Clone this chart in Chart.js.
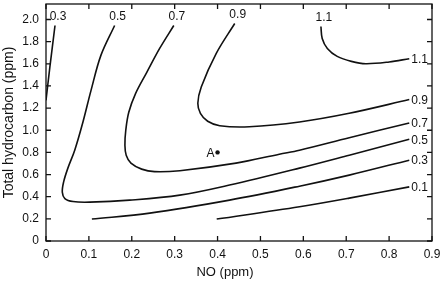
<!DOCTYPE html>
<html>
<head>
<meta charset="utf-8">
<script src="https://cdn.jsdelivr.net/npm/chart.js@4.4.1/dist/chart.umd.min.js"></script>
<style>
    html, body { margin: 0; padding: 0; background: #fff; }
</style>
</head>
<body>
<canvas id="isopleths" width="440" height="282"></canvas>
<script>
// axis ticks
const noTicks = [0, 0.1, 0.2, 0.3, 0.4, 0.5, 0.6, 0.7, 0.8, 0.9];
const hcTicks = [0, 0.2, 0.4, 0.6, 0.8, 1.0, 1.2, 1.4, 1.6, 1.8, 2.0];

// ozone isopleths (ppm), read off the figure as NO / hydrocarbon pairs
const iso01 = [
    {x: 0.398, y: 0.198}, {x: 0.591, y: 0.309}, {x: 0.707, y: 0.387}, {x: 0.847, y: 0.489}
];
const iso03Low = [
    {x: 0.107, y: 0.198}, {x: 0.242, y: 0.252}, {x: 0.428, y: 0.369},
    {x: 0.591, y: 0.495}, {x: 0.707, y: 0.595}, {x: 0.847, y: 0.730}
];
const iso03High = [
    {x: 0.021, y: 1.946}, {x: 0.009, y: 1.57}, {x: 0.0, y: 1.27}
];
const iso05 = [
    {x: 0.160, y: 1.946}, {x: 0.128, y: 1.676}, {x: 0.105, y: 1.360}, {x: 0.086, y: 1.072},
    {x: 0.067, y: 0.820}, {x: 0.051, y: 0.658}, {x: 0.041, y: 0.532}, {x: 0.038, y: 0.441},
    {x: 0.044, y: 0.383}, {x: 0.063, y: 0.356}, {x: 0.102, y: 0.351}, {x: 0.195, y: 0.369},
    {x: 0.312, y: 0.414}, {x: 0.428, y: 0.505}, {x: 0.591, y: 0.658}, {x: 0.707, y: 0.775},
    {x: 0.847, y: 0.919}
];
const iso07 = [
    {x: 0.298, y: 1.946}, {x: 0.265, y: 1.739}, {x: 0.235, y: 1.523}, {x: 0.209, y: 1.333},
    {x: 0.193, y: 1.162}, {x: 0.186, y: 1.000}, {x: 0.184, y: 0.865}, {x: 0.187, y: 0.775},
    {x: 0.198, y: 0.703}, {x: 0.223, y: 0.649}, {x: 0.253, y: 0.626}, {x: 0.312, y: 0.635},
    {x: 0.443, y: 0.703}, {x: 0.544, y: 0.784}, {x: 0.591, y: 0.820}, {x: 0.707, y: 0.933},
    {x: 0.847, y: 1.066}
];
const iso09 = [
    {x: 0.440, y: 1.964}, {x: 0.397, y: 1.694}, {x: 0.362, y: 1.390}, {x: 0.354, y: 1.243},
    {x: 0.360, y: 1.153}, {x: 0.377, y: 1.081}, {x: 0.405, y: 1.041}, {x: 0.474, y: 1.032},
    {x: 0.591, y: 1.075}, {x: 0.707, y: 1.153}, {x: 0.847, y: 1.277}
];
const iso11 = [
    {x: 0.641, y: 1.937}, {x: 0.644, y: 1.829}, {x: 0.656, y: 1.739}, {x: 0.679, y: 1.667},
    {x: 0.712, y: 1.622}, {x: 0.746, y: 1.601}, {x: 0.800, y: 1.617}, {x: 0.847, y: 1.646}
];
const pointA = [{x: 0.4, y: 0.8}];

// which end of each curve carries its value label
const curves = [
    {data: iso01, text: '0.1', top: false, right: true},
    {data: iso03Low, text: '0.3', top: false, right: true},
    {data: iso03High, text: '0.3', top: true, right: false},
    {data: iso05, text: '0.5', top: true, right: true},
    {data: iso07, text: '0.7', top: true, right: true},
    {data: iso09, text: '0.9', top: true, right: true},
    {data: iso11, text: '1.1', top: true, right: true}
];

const FONT = "'Liberation Sans', Arial, sans-serif";
const INK = '#111';

const fmt = v => v === 0 ? '0' : v.toFixed(1);

const decorations = {
    id: 'decorations',
    afterDatasetsDraw(chart) {
        const {ctx, chartArea: a, scales: {x, y}} = chart;
        ctx.save();
        ctx.strokeStyle = INK;
        ctx.lineWidth = 1.3;
        ctx.strokeRect(a.left, a.top, a.right - a.left, a.bottom - a.top);

        // inward ticks on all four sides
        ctx.beginPath();
        noTicks.forEach(v => {
            const px = x.getPixelForValue(v);
            ctx.moveTo(px, a.bottom); ctx.lineTo(px, a.bottom - 5);
            ctx.moveTo(px, a.top); ctx.lineTo(px, a.top + 5);
        });
        hcTicks.forEach(v => {
            const py = y.getPixelForValue(v);
            ctx.moveTo(a.left, py); ctx.lineTo(a.left + 5, py);
            ctx.moveTo(a.right, py); ctx.lineTo(a.right - 5, py);
        });
        ctx.stroke();

        // curve labels
        ctx.fillStyle = INK;
        ctx.font = '12px ' + FONT;
        curves.forEach(c => {
            if (c.top) {
                const p = c.data[0];
                ctx.textAlign = 'center';
                ctx.textBaseline = 'middle';
                ctx.fillText(c.text, x.getPixelForValue(p.x) + 3, y.getPixelForValue(p.y) - 9);
            }
            if (c.right) {
                const p = c.data[c.data.length - 1];
                ctx.textAlign = 'left';
                ctx.textBaseline = 'middle';
                ctx.fillText(c.text, x.getPixelForValue(p.x) + 2, y.getPixelForValue(p.y) + 1);
            }
        });

        // point A
        ctx.textAlign = 'right';
        ctx.textBaseline = 'middle';
        ctx.fillText('A', x.getPixelForValue(pointA[0].x) - 3, y.getPixelForValue(pointA[0].y) + 1);

        // x axis title
        ctx.font = '13px ' + FONT;
        ctx.textAlign = 'center';
        ctx.fillText('NO (ppm)', 225, 272);
        ctx.restore();
    }
};

const datasets = curves.map(c => ({
    data: c.data,
    showLine: true,
    borderColor: INK,
    borderWidth: 1.6,
    pointRadius: 0,
    tension: 0.35,
    fill: false
}));
datasets.push({
    data: pointA,
    showLine: false,
    pointRadius: 2.2,
    pointBackgroundColor: INK,
    pointBorderWidth: 0
});

new Chart(document.getElementById('isopleths'), {
    type: 'scatter',
    data: {datasets: datasets},
    options: {
        responsive: false,
        animation: false,
        events: [],
        layout: {padding: {top: 3, right: 8, left: 0, bottom: 0}},
        plugins: {
            legend: {display: false},
            tooltip: {enabled: false}
        },
        scales: {
            x: {
                type: 'linear',
                min: 0,
                max: 0.9,
                afterBuildTicks: s => { s.ticks = noTicks.map(v => ({value: v})); },
                afterFit: s => { s.height = 41; s.paddingLeft = 0; s.paddingRight = 0; },
                grid: {display: false, drawTicks: false},
                border: {display: false},
                ticks: {
                    callback: fmt,
                    color: INK,
                    padding: 6,
                    maxRotation: 0,
                    font: {family: FONT, size: 12}
                }
            },
            y: {
                type: 'linear',
                min: 0,
                max: 2.14,
                afterBuildTicks: s => { s.ticks = hcTicks.map(v => ({value: v})); },
                afterFit: s => { s.width = 46; s.paddingTop = 0; s.paddingBottom = 0; },
                grid: {display: false, drawTicks: false},
                border: {display: false},
                ticks: {
                    callback: fmt,
                    color: INK,
                    padding: 7,
                    font: {family: FONT, size: 12}
                },
                title: {
                    display: true,
                    text: 'Total hydrocarbon (ppm)',
                    color: INK,
                    padding: {top: 1, bottom: 0},
                    font: {family: FONT, size: 14}
                }
            }
        }
    },
    plugins: [decorations]
});
</script>
</body>
</html>
